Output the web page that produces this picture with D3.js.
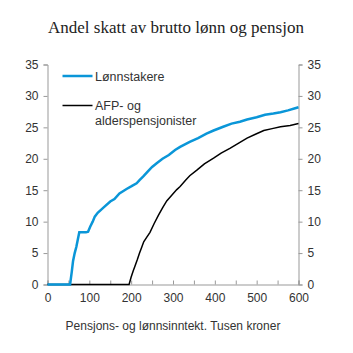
<!DOCTYPE html>
<html><head><meta charset="utf-8">
<script src="https://cdn.jsdelivr.net/npm/d3@7"></script>
<style>body{margin:0;background:#fff}svg{display:block}</style>
</head><body>
<svg id="c" width="353" height="353"></svg>
<script>
const title = "Andel skatt av brutto lønn og pensjon";
const xLabel = "Pensjons- og lønnsinntekt. Tusen kroner";
const seriesNames = ["Lønnstakere", "AFP- og alderspensjonister"];
const xTicks = [0,100,200,300,400,500,600];
const yTicks = [0,5,10,15,20,25,30,35];
const lonnX = [0,54,58,61,65,69,72,76,80,92,97,102,108,113,120,135,150,160,172,189,200,213,220,229,240,250,261,275,290,305,317,340,360,380,397,420,440,460,477,500,520,540,557,575,590,600];
const lonnY = [0,0,2,3.7,5,6,7,8.3,8.3,8.3,8.4,9.2,10,10.8,11.4,12.3,13.2,13.6,14.5,15.2,15.6,16.1,16.6,17.2,18,18.7,19.3,20,20.6,21.4,21.9,22.7,23.3,24,24.5,25.1,25.6,25.9,26.25,26.6,27,27.2,27.4,27.7,28,28.2];
const pensX = [0,195,200,205,209,215,220,225,230,237,245,255,265,275,285,297,309,317,330,340,357,375,397,415,437,457,477,497,517,537,557,580,600];
const pensY = [0,0,1.2,2.2,2.9,4,5,5.9,6.8,7.5,8.3,9.7,11,12.2,13.3,14.2,15.1,15.6,16.6,17.3,18.2,19.2,20.1,20.9,21.7,22.5,23.3,23.9,24.5,24.8,25.1,25.3,25.6];

const svg = d3.select("#c");
const L=47.5, R=298.5, T=64.5, B=284.5;
const x = d3.scaleLinear().domain([0,600]).range([L,R]);
const y = d3.scaleLinear().domain([0,35]).range([B,T]);
const axisCol = "#999";
const txtCol = "#333";
const font = "'Liberation Sans', Arial, sans-serif";

svg.append("text").attr("x",176).attr("y",33).attr("text-anchor","middle")
  .attr("font-family","'Liberation Serif', 'Times New Roman', serif").attr("font-size",17)
  .attr("fill","#222").text(title);

// axes
const gx = svg.append("g").attr("transform",`translate(0,${B})`)
  .call(d3.axisBottom(x).tickValues(d3.range(0,601,50)).tickSize(-4).tickFormat(d=>xTicks.includes(d)?d:""));
const gyl = svg.append("g").attr("transform",`translate(${L},0)`)
  .call(d3.axisLeft(y).tickValues(yTicks).tickSize(4));
const gyr = svg.append("g").attr("transform",`translate(${R},0)`)
  .call(d3.axisRight(y).tickValues(yTicks).tickSize(4));
[gx,gyl,gyr].forEach(g=>{
  g.select(".domain").attr("stroke",axisCol);
  g.selectAll(".tick line").attr("stroke",axisCol);
  g.selectAll(".tick text").attr("fill",txtCol).attr("font-family",font).attr("font-size",12);
});
gx.selectAll(".tick text").attr("dy","0.71em").attr("y",9);
gyl.selectAll(".tick text").attr("x",-9);
gyr.selectAll(".tick text").attr("x",9);

svg.append("text").attr("x",173).attr("y",329.5).attr("text-anchor","middle")
  .attr("font-family",font).attr("font-size",12).attr("fill",txtCol).text(xLabel);

const line = d3.line().x(d=>x(d[0])).y(d=>y(d[1]));
svg.append("path").datum(pensX.map((v,i)=>[v,pensY[i]]))
  .attr("d",line).attr("fill","none").attr("stroke","#000").attr("stroke-width",1.5);
svg.append("path").datum(lonnX.map((v,i)=>[v,lonnY[i]]))
  .attr("d",line).attr("fill","none").attr("stroke","#0a96d8").attr("stroke-width",2.5);

// legend
svg.append("line").attr("x1",62.5).attr("x2",92.5).attr("y1",76).attr("y2",76)
  .attr("stroke","#0a96d8").attr("stroke-width",2.5);
svg.append("text").attr("x",95).attr("y",80.5).attr("font-family",font).attr("font-size",12.5)
  .attr("fill",txtCol).text(seriesNames[0]);
svg.append("line").attr("x1",62.5).attr("x2",92.5).attr("y1",105.5).attr("y2",105.5)
  .attr("stroke","#000").attr("stroke-width",1.5);
const t2 = svg.append("text").attr("font-family",font).attr("font-size",12.5).attr("fill",txtCol);
t2.append("tspan").attr("x",95).attr("y",110).text("AFP- og");
t2.append("tspan").attr("x",95).attr("y",124.5).text("alderspensjonister");
</script>
</body></html>
